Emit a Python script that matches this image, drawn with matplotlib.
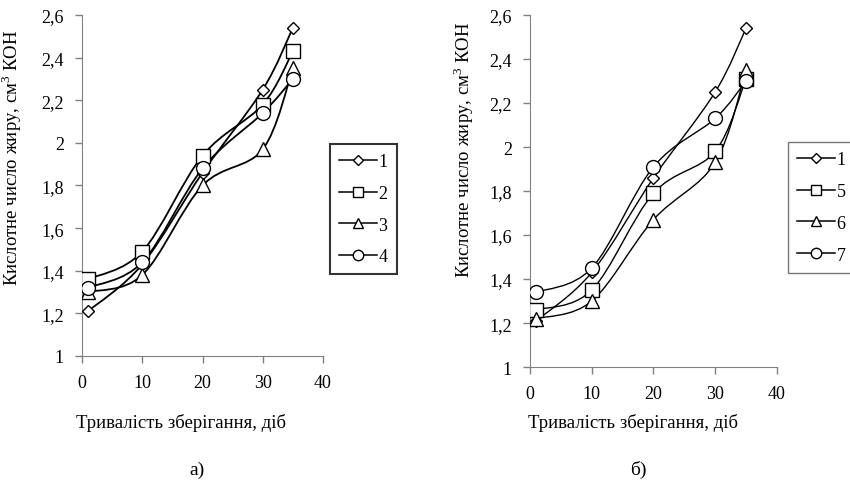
import matplotlib
matplotlib.use("Agg")
import matplotlib.pyplot as plt
from matplotlib.path import Path
from matplotlib.patches import PathPatch
from matplotlib.lines import Line2D
import numpy as np

plt.rcParams['font.family'] = ['Liberation Serif', 'DejaVu Serif']
plt.rcParams['mathtext.fontset'] = 'custom'
plt.rcParams['mathtext.rm'] = 'Liberation Serif'

days = [1, 10, 20, 30, 35]

# chart a)
s1 = [1.21, 1.43, 1.86, 2.25, 2.54]
s2 = [1.36, 1.49, 1.94, 2.18, 2.43]
s3 = [1.30, 1.38, 1.80, 1.97, 2.35]
s4 = [1.32, 1.44, 1.88, 2.14, 2.30]

# chart б)
s5 = [1.26, 1.35, 1.79, 1.98, 2.31]
s6 = [1.22, 1.30, 1.67, 1.93, 2.35]
s7 = [1.34, 1.45, 1.91, 2.13, 2.30]

labels_a = ['1', '2', '3', '4']
labels_b = ['1', '5', '6', '7']
markers = ['D', 's', '^', 'o']
msizes = [6.5, 10, 10, 10]

yticks = [1, 1.2, 1.4, 1.6, 1.8, 2, 2.2, 2.4, 2.6]
ytick_labels = ['1', '1,2', '1,4', '1,6', '1,8', '2', '2,2', '2,4', '2,6']
xticks = [0, 10, 20, 30, 40]

xlabel = 'Тривалість зберігання, діб'
ylabel = 'Кислотне число жиру, см$^3$ КОН'


def smooth_path(x, y):
    pts = np.column_stack([x, y]).astype(float)
    n = len(pts)
    verts = [pts[0]]
    codes = [Path.MOVETO]
    for i in range(n - 1):
        p0 = pts[i - 1] if i > 0 else pts[i]
        p1 = pts[i]
        p2 = pts[i + 1]
        p3 = pts[i + 2] if i + 2 < n else pts[i + 1]
        c1 = p1 + (p2 - p0) / 6.0
        c2 = p2 - (p3 - p1) / 6.0
        verts += [c1, c2, p2]
        codes += [Path.CURVE4] * 3
    return Path(verts, codes)


fig = plt.figure(figsize=(8.5, 4.85), dpi=100)
ax1 = fig.add_axes([0.0965, 0.264, 0.2835, 0.703])
ax2 = fig.add_axes([0.6235, 0.241, 0.2905, 0.726])


def draw(ax, series, labels, legend_pos, legend_frame_lw, legend_edge,
         line_lw, ylab_xy):
    for s, m, ms in zip(series, markers, msizes):
        ax.add_patch(PathPatch(smooth_path(days, s), facecolor='none',
                               edgecolor='black', lw=line_lw, zorder=2))
        ax.plot(days, s, linestyle='none', marker=m, ms=ms,
                mfc='white', mec='black', mew=1.0, zorder=3)
    ax.set_xlim(0, 40)
    ax.set_ylim(1, 2.6)
    ax.set_xticks(xticks)
    ax.set_yticks(yticks)
    ax.set_yticklabels(ytick_labels)
    ax.tick_params(labelsize=13, direction='out', length=5, color='#808080',
                   width=1, pad=8)
    for sp in ['top', 'right']:
        ax.spines[sp].set_visible(False)
    for sp in ['left', 'bottom']:
        ax.spines[sp].set_color('#808080')
    ax.set_ylabel(ylabel, fontsize=13.5)
    ax.yaxis.set_label_coords(*ylab_xy)
    handles = [Line2D([0], [0], color='black', lw=1.1, marker=m, ms=ms * 0.75,
                      mfc='white', mec='black') for m, ms in zip(markers, msizes)]
    leg = fig.legend(handles, labels, loc='upper left', bbox_to_anchor=legend_pos,
                     fontsize=13, frameon=True, fancybox=False,
                     handlelength=2.1, handletextpad=0.1, labelspacing=0.82,
                     borderpad=0.5, borderaxespad=0)
    leg.get_frame().set_edgecolor(legend_edge)
    leg.get_frame().set_linewidth(legend_frame_lw)
    return leg


leg1 = draw(ax1, [s1, s2, s3, s4], labels_a, (0.388, 0.701), 1.5, 'black', 1.3,
            (-0.24, 0.584))
leg2 = draw(ax2, [s1, s5, s6, s7], labels_b, (0.927, 0.705), 1.0, '#555555', 1.0,
            (-0.218, 0.62))

fig.text(181 / 850, 1 - 423 / 485, xlabel, fontsize=13.5, ha='center', va='center')
fig.text(633 / 850, 1 - 423 / 485, xlabel, fontsize=13.5, ha='center', va='center')
fig.text(197 / 850, 1 - 470 / 485, 'а)', fontsize=14, ha='center', va='center')
fig.text(638 / 850, 1 - 470 / 485, 'б)', fontsize=14, ha='center', va='center')

fig.savefig('out.png', dpi=100)
